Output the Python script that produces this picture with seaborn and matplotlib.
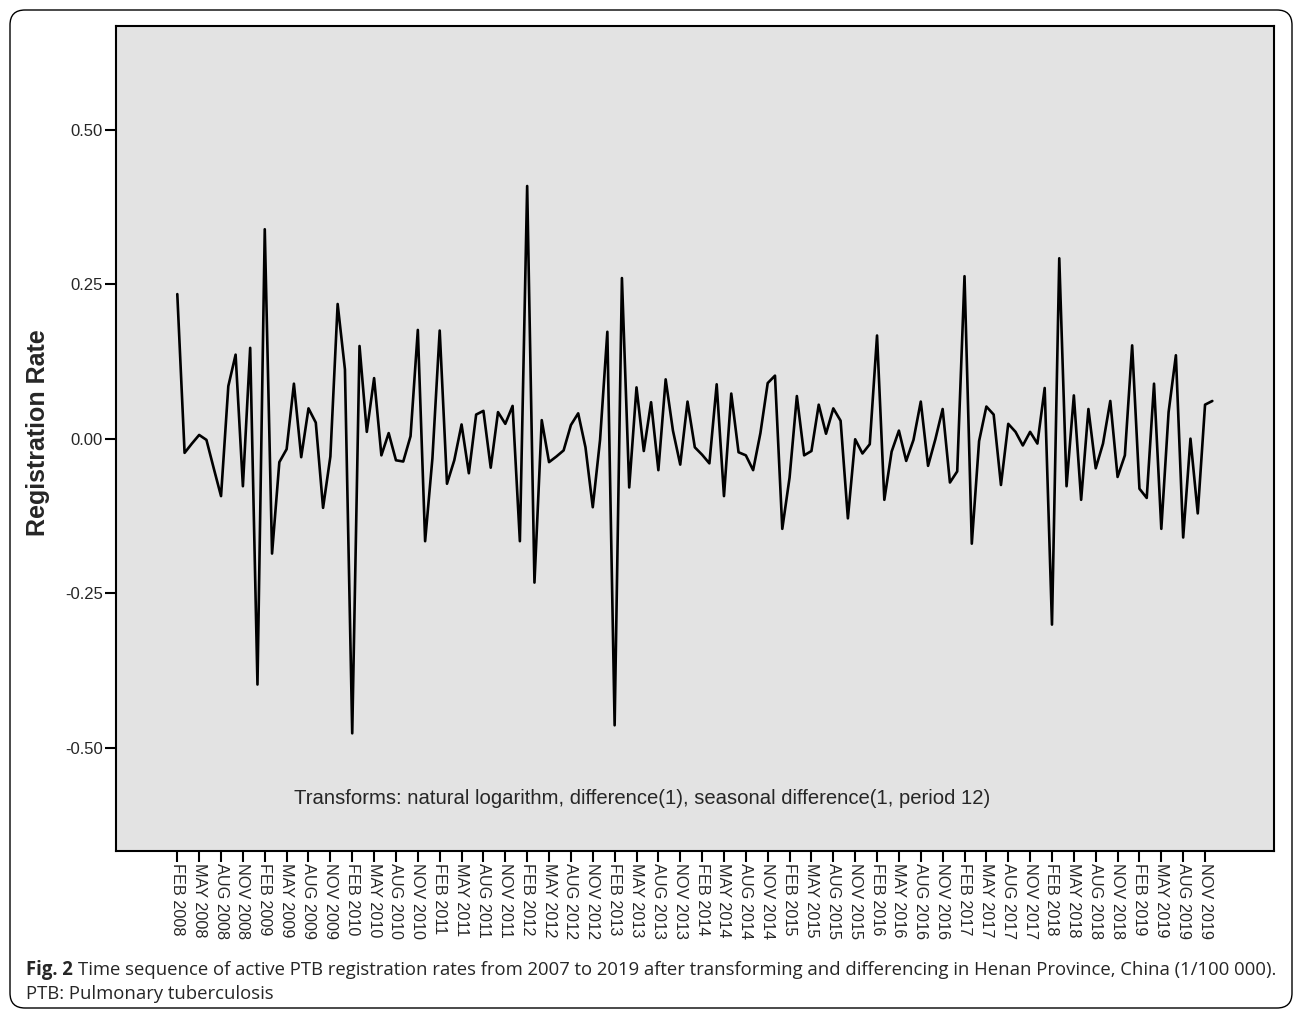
import numpy as np
import pandas as pd
import matplotlib
matplotlib.use("Agg")
import matplotlib.pyplot as plt
import seaborn as sns
from matplotlib.patches import FancyBboxPatch
from matplotlib.transforms import IdentityTransform

# ---------------- data ----------------
months = pd.date_range("2008-02-01", periods=143, freq="MS")
rate = [
    0.234, -0.023, -0.008, 0.006, -0.002, -0.048, -0.093, 0.085, 0.136, -0.077,
    0.147, -0.398, 0.339, -0.186, -0.038, -0.017, 0.089, -0.030, 0.049, 0.026,
    -0.112, -0.029, 0.218, 0.112, -0.477, 0.150, 0.011, 0.098, -0.027, 0.009,
    -0.035, -0.037, 0.004, 0.176, -0.166, -0.032, 0.175, -0.073, -0.035, 0.023,
    -0.056, 0.039, 0.045, -0.047, 0.043, 0.024, 0.053, -0.166, 0.409, -0.233,
    0.030, -0.038, -0.029, -0.019, 0.022, 0.041, -0.014, -0.111, -0.002, 0.173,
    -0.464, 0.260, -0.079, 0.083, -0.020, 0.059, -0.051, 0.096, 0.013, -0.042,
    0.060, -0.014, -0.026, -0.040, 0.088, -0.093, 0.073, -0.022, -0.027, -0.051,
    0.009, 0.090, 0.102, -0.146, -0.063, 0.069, -0.027, -0.020, 0.055, 0.008,
    0.049, 0.029, -0.129, -0.001, -0.024, -0.009, 0.167, -0.099, -0.021, 0.013,
    -0.036, -0.002, 0.060, -0.044, -0.001, 0.048, -0.071, -0.053, 0.263, -0.170,
    -0.004, 0.052, 0.039, -0.075, 0.024, 0.011, -0.011, 0.011, -0.008, 0.082,
    -0.301, 0.292, -0.077, 0.070, -0.099, 0.048, -0.048, -0.008, 0.061, -0.062,
    -0.027, 0.151, -0.081, -0.096, 0.089, -0.146, 0.043, 0.135, -0.160, 0.000,
    -0.121, 0.055, 0.061,
]
tick_step = 3
x_ticklabels = [m.strftime("%b %Y").upper() for m in months[::tick_step]]
y_ticks = [-0.50, -0.25, 0.00, 0.25, 0.50]
y_ticklabels = ["-0.50", "-0.25", "0.00", "0.25", "0.50"]
y_label = "Registration Rate"
note = "Transforms: natural logarithm, difference(1), seasonal difference(1, period 12)"
caption_bold = "Fig. 2"
caption_1 = ("Time sequence of active PTB registration rates from 2007 to 2019 after "
             "transforming and differencing in Henan Province, China (1/100 000).")
caption_2 = "PTB: Pulmonary tuberculosis"

# ---------------- style ----------------
sns.set_style("white")
plt.rcParams["font.family"] = ["Liberation Sans", "DejaVu Sans"]

df = pd.DataFrame({"t": np.arange(len(rate)), "rate": rate})

W, H = 1295, 1010
fig = plt.figure(figsize=(W / 100, H / 100), dpi=100)
fig.patch.set_facecolor("white")

ax_l, ax_r, ax_t, ax_b = 115.7, 1274.0, 26.0, 850.7
ax = fig.add_axes([ax_l / W, 1 - ax_b / H, (ax_r - ax_l) / W, (ax_b - ax_t) / H])
ax.set_facecolor("#e3e3e3")

sns.lineplot(data=df, x="t", y="rate", ax=ax, color="black", linewidth=1.9)

ax.set_xlim(-8.45, 150.46)
ax.set_ylim(-0.667, 0.668)

ax.set_xticks(df["t"][::tick_step])
ax.set_xticklabels(x_ticklabels, rotation=270, fontsize=11.7, ha="center", va="top")
ax.set_yticks(y_ticks)
ax.set_yticklabels(y_ticklabels, fontsize=12)
ax.tick_params(axis="both", direction="out", length=7.7, width=1.5, color="black",
               bottom=True, left=True, pad=1.5)
ax.set_xlabel("")
ax.set_ylabel(y_label, fontsize=18, fontweight="bold")
ax.yaxis.set_label_coords((38 - ax_l) / (ax_r - ax_l), (ax_b - 433) / (ax_b - ax_t))
ax.yaxis.label.set_verticalalignment("center")

for sp in ax.spines.values():
    sp.set_visible(True)
    sp.set_color("black")
    sp.set_linewidth(1.5)

renderer = fig.canvas.get_renderer()

# annotation inside plot, fitted to its width in the reference (~700 px)
t_note = ax.text(0, 0, note, fontsize=10, va="center", ha="left")
w10 = t_note.get_window_extent(renderer).width
t_note.set_fontsize(10 * 700 / w10)
x_note = ax.transData.inverted().transform((294, 0))[0]
y_note = ax.transData.inverted().transform((0, H - 799))[1]
t_note.set_position((x_note, y_note))

# caption below the chart
cap_font = ["Open Sans", "DejaVu Sans"]
tb = fig.text(26 / W, 1 - 975 / H, caption_bold, fontsize=10, fontweight="bold",
              family=cap_font, va="baseline", ha="left")
tr = fig.text(0, 1 - 975 / H, caption_1, fontsize=10, family=cap_font,
              va="baseline", ha="left")
wb = tb.get_window_extent(renderer).width
wr = tr.get_window_extent(renderer).width
space10 = 10 * 100 / 72 * 0.26
fs_cap = 10 * 1252 / (wb + wr + space10)
tb.set_fontsize(fs_cap)
tr.set_fontsize(fs_cap)
wb = tb.get_window_extent(renderer).width
tr.set_position(((26 + wb + fs_cap * 100 / 72 * 0.26) / W, 1 - 975 / H))
fig.text(26 / W, 1 - 999 / H, caption_2, fontsize=fs_cap, family=cap_font,
         va="baseline", ha="left")

# rounded outer frame
frame = FancyBboxPatch((10, H - 1008), 1282, 998,
                       boxstyle="round,pad=0,rounding_size=15",
                       transform=IdentityTransform(), fill=False,
                       edgecolor="black", linewidth=1.0)
fig.add_artist(frame)

fig.savefig("out.png", dpi=100)
